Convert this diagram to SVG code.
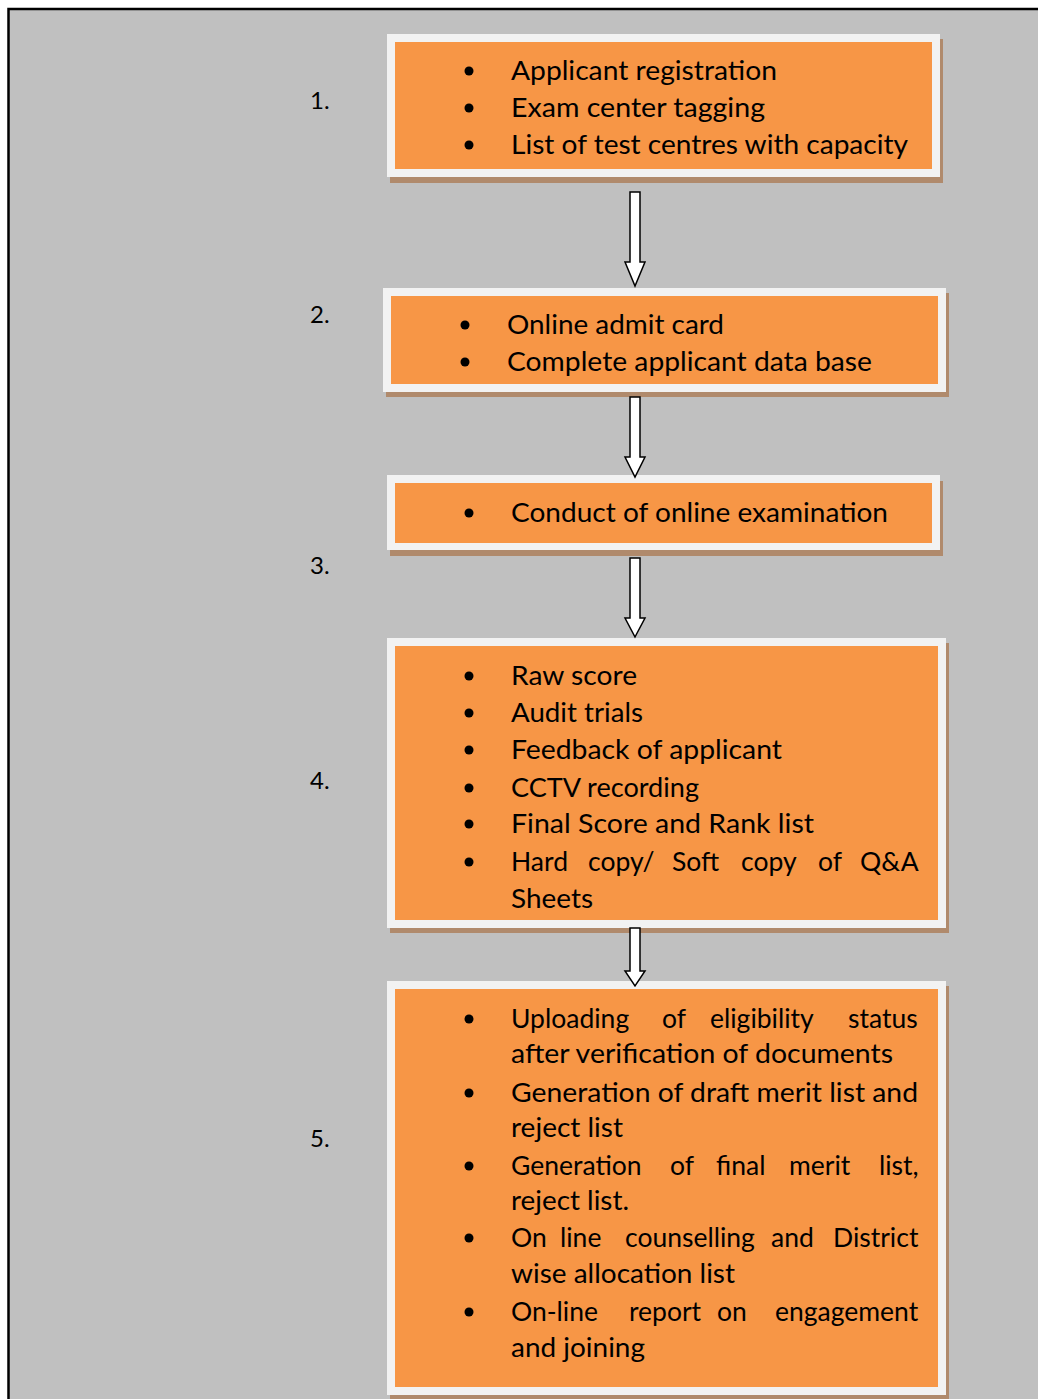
<svg xmlns="http://www.w3.org/2000/svg" width="1038" height="1399" viewBox="0 0 1038 1399">
<style>
.frame{fill:#f2f2f2}
.fill{fill:#f79646}
.shadow{fill:#b08a6c}
.t{font-family:Lato,"Open Sans",sans-serif;font-size:26.5px;fill:#000}
.num{font-family:Lato,"Open Sans",sans-serif;font-size:24px;fill:#000}
.bul{fill:#000}
.arrow{fill:#fff;stroke:#000;stroke-width:1.5;stroke-linejoin:miter}
</style>
<rect x="8.5" y="9" width="1040" height="1400" fill="#c0c0c0" stroke="#000" stroke-width="2.5"/>

<g id="labels">
<text class="num" x="310" y="109">1.</text>
<text class="num" x="310" y="323">2.</text>
<text class="num" x="310" y="574">3.</text>
<text class="num" x="310" y="789">4.</text>
<text class="num" x="310" y="1147">5.</text>
</g>

<g id="node1">
<rect class="shadow" x="390" y="39" width="553" height="144"/>
<rect class="frame" x="387" y="34" width="553" height="143"/>
<rect class="fill" x="395" y="42" width="537" height="127"/>
<circle class="bul" cx="469" cy="71" r="4.5"/>
<circle class="bul" cx="469" cy="108" r="4.5"/>
<circle class="bul" cx="469" cy="145" r="4.5"/>
<text class="t" x="511" y="80" textLength="266" lengthAdjust="spacingAndGlyphs">Applicant registration</text>
<text class="t" x="511" y="117" textLength="254" lengthAdjust="spacingAndGlyphs">Exam center tagging</text>
<text class="t" x="511" y="154" textLength="397" lengthAdjust="spacingAndGlyphs">List of test centres with capacity</text>
</g>

<g id="node2">
<rect class="shadow" x="386" y="293" width="563" height="104"/>
<rect class="frame" x="383" y="288" width="563" height="104"/>
<rect class="fill" x="391" y="296" width="547" height="88"/>
<circle class="bul" cx="465" cy="325" r="4.5"/>
<circle class="bul" cx="465" cy="362" r="4.5"/>
<text class="t" x="507" y="334" textLength="217" lengthAdjust="spacingAndGlyphs">Online admit card</text>
<text class="t" x="507" y="371" textLength="365" lengthAdjust="spacingAndGlyphs">Complete applicant data base</text>
</g>

<g id="node3">
<rect class="shadow" x="390" y="481" width="553" height="75"/>
<rect class="frame" x="387" y="475" width="553" height="75"/>
<rect class="fill" x="395" y="483" width="537" height="60"/>
<circle class="bul" cx="469" cy="513" r="4.5"/>
<text class="t" x="511" y="522" textLength="377" lengthAdjust="spacingAndGlyphs">Conduct of online examination</text>
</g>

<g id="node4">
<rect class="shadow" x="390" y="643" width="559" height="290"/>
<rect class="frame" x="387" y="638" width="559" height="290"/>
<rect class="fill" x="395" y="646" width="543" height="274"/>
<circle class="bul" cx="469" cy="676" r="4.5"/>
<circle class="bul" cx="469" cy="713" r="4.5"/>
<circle class="bul" cx="469" cy="750" r="4.5"/>
<circle class="bul" cx="469" cy="788" r="4.5"/>
<circle class="bul" cx="469" cy="824" r="4.5"/>
<circle class="bul" cx="469" cy="862" r="4.5"/>
<text class="t" x="511" y="685" textLength="126" lengthAdjust="spacingAndGlyphs">Raw score</text>
<text class="t" x="511" y="722" textLength="132" lengthAdjust="spacingAndGlyphs">Audit trials</text>
<text class="t" x="511" y="759" textLength="271" lengthAdjust="spacingAndGlyphs">Feedback of applicant</text>
<text class="t" x="511" y="797" textLength="188" lengthAdjust="spacingAndGlyphs">CCTV recording</text>
<text class="t" x="511" y="833" textLength="303" lengthAdjust="spacingAndGlyphs">Final Score and  Rank list</text>
<text class="t" y="871"><tspan x="511">Hard</tspan> <tspan x="588">copy/</tspan> <tspan x="672">Soft</tspan> <tspan x="741">copy</tspan> <tspan x="818">of</tspan> <tspan x="860">Q&amp;A</tspan></text>
<text class="t" x="511" y="908" textLength="82" lengthAdjust="spacingAndGlyphs">Sheets</text>
</g>

<g id="node5">
<rect class="shadow" x="390" y="986" width="559" height="420"/>
<rect class="frame" x="387" y="981" width="559" height="414"/>
<rect class="fill" x="395" y="989" width="543" height="398"/>
<circle class="bul" cx="469" cy="1019" r="4.5"/>
<circle class="bul" cx="469" cy="1093" r="4.5"/>
<circle class="bul" cx="469" cy="1166" r="4.5"/>
<circle class="bul" cx="469" cy="1238" r="4.5"/>
<circle class="bul" cx="469" cy="1312" r="4.5"/>
<text class="t" y="1028"><tspan x="511">Uploading</tspan> <tspan x="662">of</tspan> <tspan x="710">eligibility</tspan> <tspan x="848">status</tspan></text>
<text class="t" x="511" y="1063" textLength="382" lengthAdjust="spacingAndGlyphs">after verification of documents</text>
<text class="t" x="511" y="1102" textLength="407" lengthAdjust="spacingAndGlyphs">Generation of draft merit list and</text>
<text class="t" x="511" y="1137" textLength="112" lengthAdjust="spacingAndGlyphs">reject list</text>
<text class="t" y="1175"><tspan x="511">Generation</tspan> <tspan x="670">of</tspan> <tspan x="716">final</tspan> <tspan x="789">merit</tspan> <tspan x="879">list,</tspan></text>
<text class="t" x="511" y="1210" textLength="118" lengthAdjust="spacingAndGlyphs">reject list.</text>
<text class="t" y="1247"><tspan x="511">On</tspan> <tspan x="560">line</tspan> <tspan x="625">counselling</tspan> <tspan x="771">and</tspan> <tspan x="833">District</tspan></text>
<text class="t" x="511" y="1283" textLength="224" lengthAdjust="spacingAndGlyphs">wise allocation list</text>
<text class="t" y="1321"><tspan x="511">On-line</tspan> <tspan x="629">report</tspan> <tspan x="717">on</tspan> <tspan x="775">engagement</tspan></text>
<text class="t" x="511" y="1357" textLength="134" lengthAdjust="spacingAndGlyphs">and joining</text>
</g>

<g id="connectors">
<polygon class="arrow" points="630,192 640,192 640,262 645,262 635,286 625,262 630,262"/>
<polygon class="arrow" points="630,397 640,397 640,457 645,457 635,477 625,457 630,457"/>
<polygon class="arrow" points="630,558 640,558 640,618 645,618 635,637 625,618 630,618"/>
<polygon class="arrow" points="630,928 640,928 640,971 645,971 635,986 625,971 630,971"/>
</g>
</svg>
